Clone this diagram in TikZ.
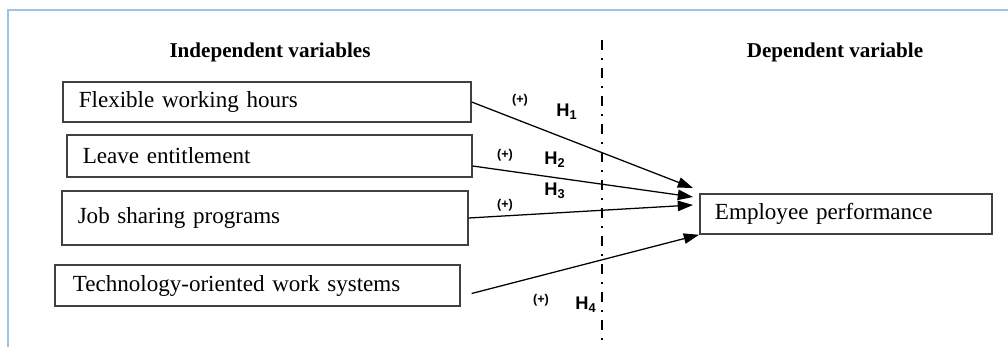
\documentclass[tikz,border=0pt]{standalone}
\usepackage{fontspec}
\setmainfont{Liberation Serif}
\newfontfamily\hfont{Liberation Sans}
\usetikzlibrary{arrows.meta,positioning,calc}
\definecolor{frameblue}{HTML}{9DC3E6}
\definecolor{boxgray}{HTML}{404040}
\tikzset{
  varbox/.style={draw=boxgray, line width=1.1pt, inner xsep=0.4cm, align=left,
    font=\fontsize{16.4}{19}\selectfont, anchor=west},
  hyparrow/.style={line width=0.9pt, -{Triangle[length=0.38cm,width=0.26cm]}},
  plus/.style={font=\hfont\bfseries\fontsize{9}{10}\selectfont},
  hyp/.style={font=\hfont\bfseries\fontsize{13}{14}\selectfont},
  head/.style={font=\bfseries\fontsize{15}{18}\selectfont}
}
\begin{document}
\begin{tikzpicture}[x=0.025cm,y=-0.025cm]
\useasboundingbox (0,0) rectangle (1008,347);
% Frame
\draw[frameblue, line width=1.5pt] (1008,10) -- (8,10) -- (8,347);

% Headings
\node[head] (indep) at (270,52) {Independent variables};
\node[head] (dep) at (835,52) {Dependent variable};

% Separator
\draw[line width=0.9pt, dash pattern=on 0.25cm off 0.2cm on 0.05cm off 0.2cm] (602,40) -- (602,342);

% Independent variables
\node[varbox, text width=9.4cm, minimum height=1cm] (flex) at (62,102) {Flexible working hours};
\node[varbox, text width=9.325cm, minimum height=1.05cm] (leave) at (66,156) {Leave entitlement};
\node[varbox, text width=9.35cm, minimum height=1.35cm] (job) at (61,218) {Job sharing programs};
\node[varbox, minimum height=1.02cm, inner xsep=0.45cm, text width=9.225cm] (tech) at (54,285.5) {Technology-oriented work systems};

% Dependent variable
\node[varbox, text width=6.55cm, minimum height=1cm, inner xsep=0.38cm] (perf) at (699,214) {Employee performance};

% Arrow ends
\coordinate (e1) at ($(perf.west)+(-6,-26)$);
\coordinate (e2) at ($(perf.west)+(-6,-17)$);
\coordinate (e3) at ($(perf.west)+(-6,-9)$);
\coordinate (s2) at ($(leave.east)+(0,10)$);
\coordinate (s4) at ($(tech.east)+(11,8)$);

% Hypotheses
\draw[hyparrow] (flex.east) -- (e1);
\draw[hyparrow] (s2) -- (e2);
\draw[hyparrow] (job.east) -- (e3);
\draw[hyparrow] (s4) -- (perf.south west);

\node[plus] (p1) at (520,100) {(+)};
\node[hyp] (h1) at (567,112) {H\textsubscript{1}};
\node[plus] (p2) at (505,155) {(+)};
\node[hyp] (h2) at (555,160) {H\textsubscript{2}};
\node[plus] (p3) at (505,205) {(+)};
\node[hyp] (h3) at (555,191) {H\textsubscript{3}};
\node[plus] (p4) at (541,300) {(+)};
\node[hyp] (h4) at (586,305) {H\textsubscript{4}};
\end{tikzpicture}
\end{document}
